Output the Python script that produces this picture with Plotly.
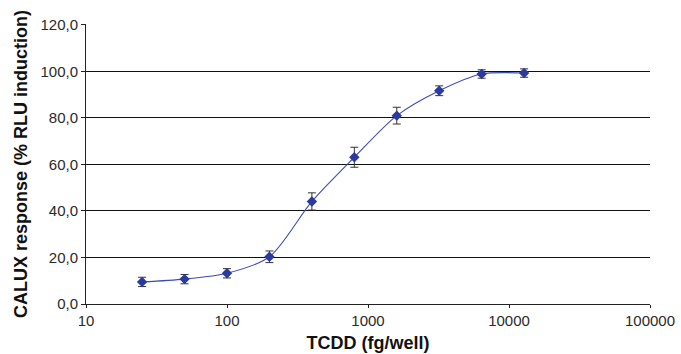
import plotly.graph_objects as go

# Data
tcdd_fg_well = [25, 50, 100, 200, 400, 800, 1600, 3200, 6400, 12800]
calux_response = [9.5, 10.7, 13.2, 20.3, 44.1, 63.1, 81.0, 91.7, 98.9, 99.3]
error_sd = [2.0, 2.0, 2.0, 2.5, 3.7, 4.3, 3.6, 2.1, 1.8, 1.8]

x_tick_vals = [10, 100, 1000, 10000, 100000]
x_tick_text = ["10", "100", "1000", "10000", "100000"]
y_tick_vals = [0, 20, 40, 60, 80, 100, 120]
y_tick_text = ["0,0", "20,0", "40,0", "60,0", "80,0", "100,0", "120,0"]

font_family = "Liberation Sans, Arial, sans-serif"

fig = go.Figure()
fig.add_trace(go.Scatter(
    x=tcdd_fg_well,
    y=calux_response,
    mode="lines+markers",
    line=dict(color="#3A4BB5", width=1.1, shape="spline", smoothing=0.8),
    marker=dict(symbol="diamond", size=8, color="#2B3A9E"),
    error_y=dict(type="data", array=error_sd, visible=True,
                 color="#333333", thickness=1, width=4),
    showlegend=False,
))

fig.update_layout(
    width=681, height=354,
    margin=dict(l=86, r=31, t=24, b=50, autoexpand=False),
    paper_bgcolor="white",
    plot_bgcolor="white",
    font=dict(family=font_family, size=15, color="#2a2a2a"),
    xaxis=dict(
        type="log",
        range=[1, 5],
        automargin=False,
        tickvals=x_tick_vals,
        ticktext=x_tick_text,
        ticks="outside", ticklen=3, tickcolor="#222222", tickwidth=1,
        showline=True, linecolor="#222222", linewidth=1,
        showgrid=False, zeroline=False,
        tickfont=dict(size=15, color="#2a2a2a"),
        title=dict(text="<b>TCDD (fg/well)</b>", font=dict(size=18, color="#111111"), standoff=8),
    ),
    yaxis=dict(
        range=[0, 120.4],
        automargin=False,
        tickvals=y_tick_vals,
        ticktext=y_tick_text,
        ticks="outside", ticklen=4, tickcolor="#222222", tickwidth=1,
        showline=True, linecolor="#222222", linewidth=1,
        showgrid=True, gridcolor="#111111", gridwidth=1,
        zeroline=False,
        tickfont=dict(size=15, color="#2a2a2a"),
        title=dict(text="<b>CALUX response (% RLU induction)</b>", font=dict(size=18, color="#111111"), standoff=8),
    ),
)

fig.write_html("out.html", config={"displayModeBar": False},
               post_script="document.body.style.margin='0';")
